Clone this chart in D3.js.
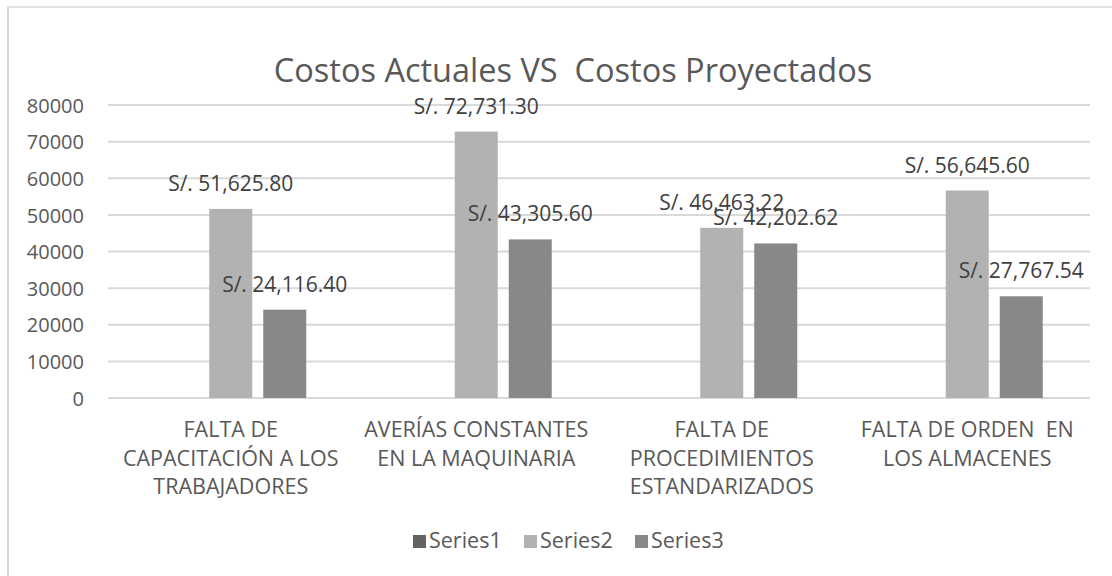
<!DOCTYPE html>
<html>
<head>
<meta charset="utf-8">
<script src="https://cdn.jsdelivr.net/npm/d3@7/dist/d3.min.js"></script>
<style>
  html, body { margin: 0; padding: 0; background: #fff; }
  svg { display: block; font-family: "Open Sans", sans-serif; }
  text { white-space: pre; }
</style>
</head>
<body>
<svg id="chart" width="1112" height="576"></svg>
<script>
const title = "Costos Actuales VS  Costos Proyectados";
const categories = [
  ["FALTA DE", "CAPACITACIÓN A LOS", "TRABAJADORES"],
  ["AVERÍAS CONSTANTES", "EN LA MAQUINARIA"],
  ["FALTA DE", "PROCEDIMIENTOS", "ESTANDARIZADOS"],
  ["FALTA DE ORDEN  EN", "LOS ALMACENES"]
];
const seriesNames = ["Series1", "Series2", "Series3"];
const series1 = [null, null, null, null];
const series2 = [51625.80, 72731.30, 46463.22, 56645.60];
const series3 = [24116.40, 43305.60, 42202.62, 27767.54];
const yTicks = [0, 10000, 20000, 30000, 40000, 50000, 60000, 70000, 80000];
const colors = ["#636363", "#b2b2b2", "#888888"];

(function () {
const svg = d3.select("#chart");
const textColor = "#595959";
const gridColor = "#d9d9d9";

// frame
svg.append("line").attr("x1", 7).attr("x2", 1112).attr("y1", 7).attr("y2", 7)
  .attr("stroke", "#e3e3e3").attr("stroke-width", 2);
svg.append("line").attr("x1", 8).attr("x2", 8).attr("y1", 6).attr("y2", 576)
  .attr("stroke", "#d9d9d9").attr("stroke-width", 2);

const pLeft = 108, pRight = 1090, pTop = 105, pBottom = 398;
const x = d3.scaleBand().domain(d3.range(categories.length)).range([pLeft, pRight]).paddingInner(0).paddingOuter(0);
const y = d3.scaleLinear().domain([0, 80000]).range([pBottom, pTop]);
const xs = d3.scaleBand().domain(seriesNames).range([0, 151]).paddingInner(11 / 54).paddingOuter(0);
const groupOffset = (x.bandwidth() - 151) / 2;

// title
svg.append("text").attr("x", 573).attr("y", 82).attr("text-anchor", "middle")
  .attr("fill", textColor).style("font-size", "32.5px").text(title);

// grid
svg.append("g").selectAll("line").data(yTicks).join("line")
  .attr("x1", pLeft).attr("x2", pRight)
  .attr("y1", d => y(d)).attr("y2", d => y(d))
  .attr("stroke", gridColor).attr("stroke-width", 2);

// y axis labels
const yAxis = d3.axisLeft(y).tickValues(yTicks).tickSize(0).tickPadding(0).tickFormat(d3.format("d"));
const gy = svg.append("g").attr("transform", "translate(84,0)").call(yAxis);
gy.select(".domain").remove();
gy.selectAll("text").attr("fill", textColor).style("font-size", "20px")
  .style("font-family", "'Open Sans', sans-serif").attr("dy", "0.36em");

// bars
const allSeries = [series1, series2, series3];
const barData = [];
allSeries.forEach((s, si) => s.forEach((v, ci) => {
  if (v !== null) barData.push({ si, ci, v });
}));
svg.append("g").selectAll("rect").data(barData).join("rect")
  .attr("x", d => x(d.ci) + groupOffset + xs(seriesNames[d.si]))
  .attr("width", xs.bandwidth())
  .attr("y", d => y(d.v))
  .attr("height", d => y(0) - y(d.v))
  .attr("fill", d => colors[d.si]);

// value labels
const fmt = d3.format(",.2f");
svg.append("g").selectAll("text").data(barData).join("text")
  .attr("x", d => x(d.ci) + groupOffset + xs(seriesNames[d.si]) + xs.bandwidth() / 2)
  .attr("y", d => y(d.v) - 18)
  .attr("text-anchor", "middle")
  .attr("fill", "#404040").style("font-size", "21px")
  .text(d => "S/. " + fmt(d.v));

// category labels
const cg = svg.append("g").selectAll("text").data(categories).join("text")
  .attr("text-anchor", "middle").attr("fill", textColor).style("font-size", "21.5px");
cg.selectAll("tspan").data((d, i) => d.map(t => ({ t, i }))).join("tspan")
  .attr("x", d => x(d.i) + x.bandwidth() / 2)
  .attr("y", (d, j) => 437 + j * 28.5)
  .text(d => d.t);

// legend
const legendX = [413, 524, 635];
const lg = svg.append("g").selectAll("g").data(seriesNames).join("g")
  .attr("transform", (d, i) => `translate(${legendX[i]},535)`);
lg.append("rect").attr("width", 13).attr("height", 13).attr("fill", (d, i) => colors[i]);
lg.append("text").attr("x", 16).attr("y", 13).attr("fill", textColor)
  .style("font-size", "21.5px").text(d => d);
})();
</script>
</body>
</html>
